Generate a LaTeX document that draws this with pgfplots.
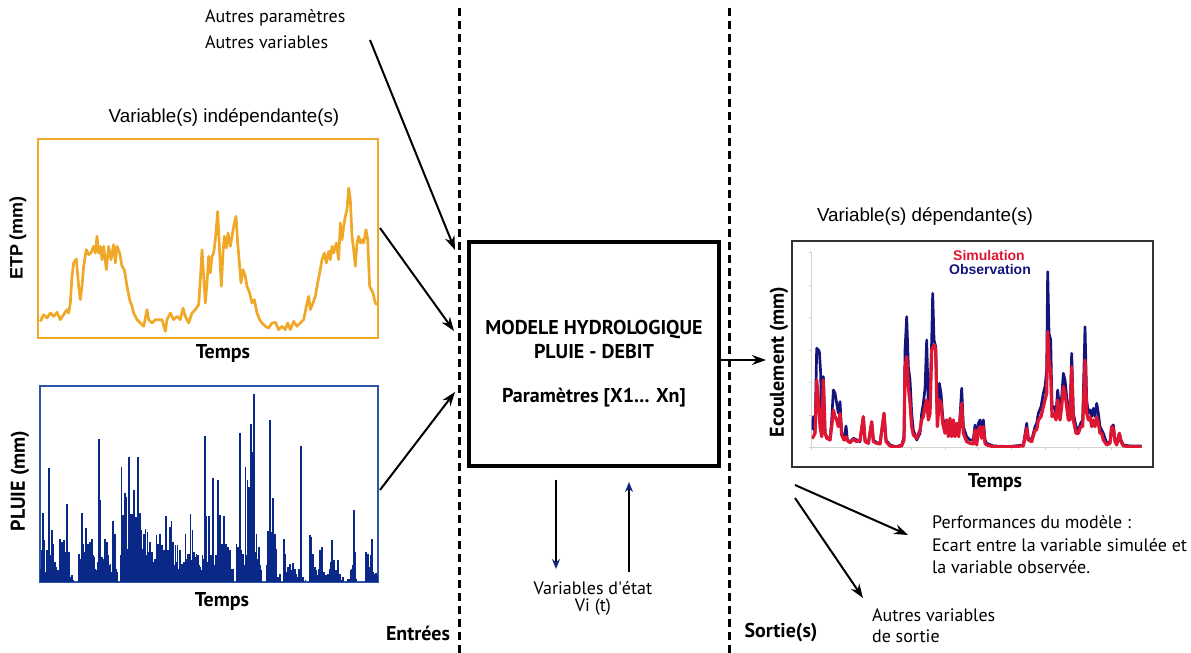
\documentclass[border=0pt]{standalone}
\usepackage{pgfplots}
\pgfplotsset{compat=1.18}
\usepackage{fontspec}
\setmainfont{PT Sans}
\newfontfamily\arial{Liberation Sans}
\usetikzlibrary{arrows.meta}
\definecolor{etp}{RGB}{240,168,40}
\definecolor{pluie}{RGB}{10,40,135}
\definecolor{pluieframe}{RGB}{45,85,165}
\definecolor{obs}{RGB}{20,20,125}
\definecolor{sim}{RGB}{222,22,50}

\begin{document}
\begin{tikzpicture}[x=0.5pt,y=0.5pt,font=\fontsize{9}{11}\selectfont]
\path[use as bounding box] (0,0) rectangle (1191,653);

% --- ETP (entree 1)
\begin{axis}[at={(19pt,157.5pt)}, anchor=south west, scale only axis,
  width=170pt, height=99.5pt,
  xmin=113, xmax=1133, ymin=0, ymax=597,
  xtick=\empty, ytick=\empty,
  axis line style={etp, line width=1.2pt}]
\addplot[etp, line width=1.35pt, line join=round] coordinates {
(120,50) (130,70) (140,60) (150,75) (160,65) (170,77) (180,55) (190,70) (200,85) (205,75)
(210,105) (215,185) (220,225) (228,237) (235,155) (240,115) (245,155) (250,215) (258,265) (265,250)
(272,255) (280,275) (285,255) (290,305) (295,255) (300,275) (305,235) (310,275) (318,205) (325,275)
(332,235) (340,280) (345,225) (350,275) (358,255) (365,215) (372,205) (380,155) (388,115) (395,95)
(400,75) (410,55) (420,45) (430,35) (440,85) (445,55) (455,45) (465,55) (475,55) (485,55)
(495,20) (500,55) (510,75) (520,55) (530,65) (540,55) (548,90) (555,65) (565,45) (575,75)
(585,85) (595,100) (600,175) (605,265) (610,185) (615,105) (620,165) (625,245) (630,195) (635,245)
(640,255) (645,295) (652,380) (658,255) (663,155) (668,255) (672,305) (678,270) (683,315) (690,275)
(695,305) (700,335) (707,365) (712,285) (718,215) (722,165) (728,205) (735,185) (740,155) (748,135)
(755,105) (762,115) (770,75) (778,55) (785,45) (795,35) (805,30) (815,45) (825,47) (835,25)
(845,35) (855,25) (862,45) (870,25) (880,50) (890,35) (900,45) (910,55) (918,95) (925,125)
(930,85) (938,105) (945,125) (952,165) (958,195) (965,235) (972,255) (978,225) (985,260) (990,235)
(995,275) (1000,255) (1008,285) (1015,235) (1020,345) (1025,295) (1030,335) (1035,365) (1040,385) (1045,450)
(1050,415) (1055,305) (1060,265) (1065,215) (1070,285) (1075,305) (1080,285) (1085,295) (1090,285) (1097,325)
(1102,295) (1108,155) (1113,145) (1118,135) (1125,105) (1130,100)
};
\end{axis}

% --- PLUIE (entree 2)
\begin{axis}[at={(20pt,35.5pt)}, anchor=south west, scale only axis,
  width=169pt, height=98pt,
  xmin=120, xmax=1135, ymin=0, ymax=587,
  xtick=\empty, ytick=\empty,
  axis line style={pluieframe, line width=0.8pt}]
% averses principales
\addplot[ycomb, pluie, line width=0.9pt, mark=none] coordinates {
(128,207) (133,125) (140,95) (148,342) (155,157) (160,115) (165,60) (175,35) (180,130) (185,120)
(192,125) (200,235) (207,90) (215,20) (237,85) (245,207) (250,115) (257,162) (265,115) (270,120)
(275,130) (282,75) (290,35) (296,427) (300,245) (305,75) (315,130) (320,120) (325,80) (332,55)
(340,183) (345,145) (352,30) (365,345) (370,200) (375,268) (380,255) (388,373) (393,205) (398,203)
(403,275) (408,195) (415,373) (420,207) (425,155) (432,145) (437,160) (443,150) (450,120) (457,90)
(462,60) (470,140) (475,115) (480,145) (487,110) (493,95) (498,198) (505,95) (510,165) (515,183)
(520,120) (527,110) (533,110) (540,95) (547,55) (557,143) (563,85) (567,85) (572,205) (578,155)
(583,90) (590,85) (595,80) (600,45) (608,80) (615,437) (620,198) (627,198) (633,80) (640,310)
(648,80) (655,305) (660,202) (667,115) (672,197) (678,115) (685,105) (690,95) (700,40) (710,115)
(715,105) (720,445) (725,95) (730,85) (737,345) (743,305) (748,285) (753,473) (758,390) (763,563)
(770,145) (778,105) (785,35) (800,20) (805,152) (810,485) (815,150) (820,252) (825,145) (830,100)
(840,25) (852,130) (857,85) (865,45) (870,55) (875,35) (880,57) (885,40) (890,25) (897,40)
(903,407) (910,15) (917,5) (930,140) (935,135) (940,85) (945,45) (950,35) (955,20) (962,95)
(967,105) (972,30) (978,20) (985,25) (993,60) (998,127) (1003,65) (1010,35) (1015,65) (1020,25)
(1030,15) (1045,10) (1055,35) (1062,215) (1065,90) (1100,90) (1105,85) (1113,80) (1118,130) (1125,25)
(1130,27)
};
% petites pluies
\addplot[ycomb, pluie, line width=0.9pt, mark=none] coordinates {
(123,40) (125,95) (130,60) (136,30) (143,20) (145,50) (150,80) (152,40) (158,60) (163,30)
(168,45) (170,20) (172,15) (178,10) (183,60) (188,70) (190,50) (195,90) (197,40) (203,30)
(210,15) (219,5) (240,40) (242,70) (248,50) (253,30) (255,90) (260,40) (262,70) (268,30)
(273,60) (278,80) (285,40) (288,20) (293,60) (298,100) (303,50) (308,30) (312,70) (318,40)
(323,30) (328,50) (335,30) (338,60) (343,80) (348,40) (362,80) (367,120) (372,90) (377,140)
(383,100) (386,150) (391,120) (396,110) (400,130) (406,90) (411,110) (413,80) (418,100) (423,80)
(428,70) (430,100) (435,60) (440,80) (446,70) (448,90) (453,60) (460,50) (465,70) (468,40)
(473,60) (478,80) (483,50) (485,70) (490,40) (496,60) (502,50) (508,80) (513,60) (518,70)
(523,50) (530,60) (536,40) (543,30) (550,40) (553,60) (560,70) (565,55) (570,80) (575,65)
(580,70) (586,60) (588,75) (593,60) (598,50) (603,35) (612,70) (618,90) (623,60) (630,45)
(636,70) (643,50) (651,60) (658,70) (663,50) (670,60) (675,80) (680,50) (683,70) (688,60)
(693,40) (712,90) (718,70) (722,80) (728,60) (733,50) (740,80) (745,90) (750,120) (755,100)
(760,130) (765,90) (768,50) (773,70) (775,40) (781,50) (802,50) (808,90) (812,70) (818,80)
(822,60) (828,40) (835,15) (855,40) (860,30) (868,20) (872,25) (878,15) (883,20) (887,10)
(893,15) (900,10) (932,60) (938,40) (943,25) (948,20) (952,10) (958,40) (965,50) (970,15)
(975,10) (982,10) (990,40) (995,50) (1000,40) (1005,20) (1012,15) (1018,20) (1025,5) (1050,10)
(1058,40) (1060,50) (1068,10) (1103,40) (1108,30) (1110,45) (1115,40) (1120,30) (1128,10) (1133,20)
};
\end{axis}

% --- Ecoulement (sortie)
\begin{axis}[at={(405.85pt,102.85pt)}, anchor=south west, scale only axis,
  width=165pt, height=97.8pt,
  xmin=155, xmax=1145, ymin=0, ymax=587,
  axis lines=left, axis line style={-, black!18, line width=0.5pt},
  xtick={155,255,355,455,555,655,755,855,955,1055},
  ytick={0,97,194,292,389,487,584},
  xticklabels={}, yticklabels={},
  tick align=outside, major tick length=1.5pt,
  tick style={black!18, line width=0.4pt}]
\addplot[obs, line width=1.35pt, line join=round] coordinates {
(155,52) (160,92) (165,42) (170,297) (175,292) (178,287) (182,222) (185,42) (190,212) (195,42)
(200,32) (210,22) (215,82) (220,172) (225,162) (230,132) (235,102) (240,137) (245,42) (252,22)
(258,64) (262,22) (270,17) (280,27) (290,22) (300,17) (310,92) (315,22) (325,12) (335,74)
(340,22) (350,14) (360,12) (372,102) (378,22) (390,7) (400,4) (410,2) (425,7) (432,32)
(435,292) (440,392) (445,242) (450,202) (455,102) (460,52) (470,22) (480,42) (485,102) (490,132)
(495,177) (500,322) (505,122) (510,132) (515,322) (518,462) (522,322) (527,302) (532,82) (538,192)
(543,162) (548,92) (555,52) (560,82) (565,42) (570,82) (575,42) (580,77) (585,42) (590,72)
(596,42) (600,92) (605,177) (610,62) (620,32) (630,22) (640,22) (645,67) (650,17) (655,72)
(660,82) (665,42) (670,82) (675,22) (680,12) (700,4) (750,2) (790,7) (800,72) (805,27)
(815,22) (825,62) (830,72) (835,102) (843,122) (850,162) (855,182) (860,232) (863,527) (867,342)
(872,322) (876,122) (882,122) (888,102) (893,172) (900,102) (905,152) (910,222) (915,202) (920,152)
(925,112) (930,102) (935,282) (940,102) (948,62) (955,52) (962,72) (968,82) (975,362) (980,142)
(985,102) (990,112) (995,92) (1000,117) (1005,92) (1010,132) (1015,102) (1020,62) (1025,52) (1030,42)
(1040,12) (1050,17) (1055,62) (1060,67) (1065,22) (1070,12) (1078,42) (1083,22) (1090,7) (1110,4)
(1145,4)
};
\addplot[sim, line width=1.6pt, line join=round] coordinates {
(155,27) (160,32) (165,42) (170,202) (175,142) (180,62) (185,32) (190,202) (195,42) (200,27)
(210,22) (215,62) (220,112) (225,92) (230,82) (235,62) (240,102) (245,37) (252,22) (258,32)
(262,20) (270,14) (280,24) (290,17) (300,22) (310,92) (315,17) (325,12) (335,77) (340,17)
(350,12) (360,10) (372,102) (378,17) (390,4) (400,2) (410,2) (425,4) (432,22) (435,237)
(440,272) (445,182) (450,132) (455,62) (460,37) (470,27) (480,52) (485,82) (490,92) (495,122)
(500,142) (505,82) (510,102) (515,292) (520,302) (523,307) (527,292) (532,62) (538,142) (543,132)
(548,72) (555,42) (560,82) (565,32) (570,87) (575,32) (580,82) (585,32) (590,72) (596,32)
(600,82) (605,132) (610,42) (620,17) (630,12) (640,10) (645,52) (650,7) (655,52) (660,62)
(665,27) (670,62) (675,12) (680,7) (700,2) (750,2) (790,4) (800,57) (805,22) (815,17)
(825,52) (830,52) (835,82) (843,92) (850,122) (855,142) (860,162) (863,347) (867,262) (872,222)
(876,92) (882,102) (888,82) (893,142) (900,82) (905,122) (910,182) (915,162) (920,122) (925,82)
(930,82) (935,242) (940,82) (948,42) (955,42) (962,62) (968,62) (975,262) (980,102) (985,82)
(990,92) (995,62) (1000,82) (1005,62) (1010,92) (1015,72) (1020,42) (1025,42) (1030,22) (1040,7)
(1050,12) (1055,62) (1060,57) (1065,17) (1070,7) (1078,42) (1083,17) (1090,4) (1110,2) (1145,2)
};
\end{axis}

% --- annotations, en pixels (y vers le bas)
\begin{scope}[yshift=326.5pt, y=-0.5pt]
\draw[line width=1pt, black!80] (792,241) rectangle (1153,467);

\node[font=\arial\fontsize{9.4}{11}\selectfont] at (224,118) {Variable(s) indépendante(s)};
\node[font=\arial\bfseries\fontsize{9}{11}\selectfont, rotate=90] at (18,238) {ETP (mm)};
\node[font=\bfseries] at (223,354) {Temps};
\node[font=\bfseries, rotate=90] at (20,481) {PLUIE (mm)};
\node[font=\bfseries] at (222,602) {Temps};
\node[font=\arial\fontsize{9.4}{11}\selectfont] at (925,217) {Variable(s) dépendante(s)};
\node[font=\bfseries, rotate=90] at (779,362) {Ecoulement (mm)};
\node[font=\bfseries] at (995,483) {Temps};
\node[font=\arial\bfseries\fontsize{7}{8}\selectfont, text=sim] at (989,256) {Simulation};
\node[font=\arial\bfseries\fontsize{7}{8}\selectfont, text=obs] at (990,270) {Observation};

% limites entrees / sorties
\draw[line width=1.5pt, dash pattern=on 4pt off 2.5pt] (459,8) -- (459,653);
\draw[line width=1.5pt, dash pattern=on 4pt off 2.5pt] (729,8) -- (729,653);

% modele
\draw[line width=1.6pt] (469,242) rectangle (719,466);
\node[font=\bfseries] at (594,330) {MODELE HYDROLOGIQUE};
\node[font=\bfseries] at (594,352) {PLUIE - DEBIT};
\node[font=\bfseries] at (594,398) {Paramètres [X1... Xn]};

% fleches
\begin{scope}[line width=1pt, -{Stealth[length=7pt, width=5pt]}]
\draw (370,40) -- (455,250);
\draw (380,228) -- (454,331);
\draw (380,490) -- (455,392);
\draw (719,360) -- (766,360);
\draw (795,485) -- (908,535);
\draw (795,498) -- (863,598);
\end{scope}
\draw[line width=1pt, -{Stealth[length=5pt, width=4pt, color=pluie]}] (556,480) -- (556,569);
\draw[line width=1pt, -{Stealth[length=5pt, width=4pt, color=pluie]}] (629,572) -- (629,482);

% autres textes
\node[anchor=west] at (198,18) {Autres paramètres};
\node[anchor=west] at (198,42) {Autres variables};
\node at (593,588) {Variables d\textquotesingle état};
\node at (593,607) {Vi (t)};
\node[font=\bfseries] at (418,633) {Entrées};
\node[font=\bfseries] at (781,633) {Sortie(s)};
\node[anchor=west] at (925,522) {Performances du modèle :};
\node[anchor=west] at (925,545) {Ecart entre la variable simulée et};
\node[anchor=west] at (925,567) {la variable observée.};
\node[anchor=west] at (865,615) {Autres variables};
\node[anchor=west] at (865,636) {de sortie};
\end{scope}
\end{tikzpicture}
\end{document}
